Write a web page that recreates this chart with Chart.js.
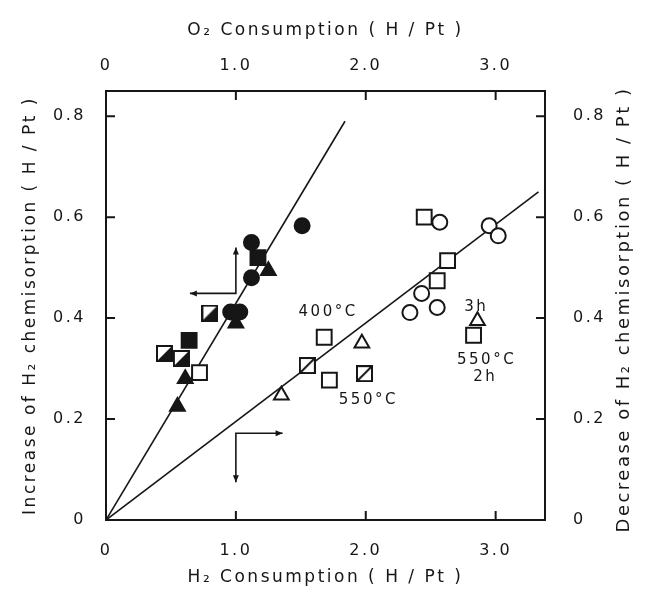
<!DOCTYPE html>
<html>
<head>
<meta charset="utf-8">
<script src="https://cdn.jsdelivr.net/npm/chart.js@4.4.1/dist/chart.umd.min.js"></script>
<style>
  html, body { margin: 0; padding: 0; background: #fff; }
</style>
</head>
<body>
<canvas id="chart" width="645" height="595"></canvas>
<script>
// Axis ticks (bottom H2 / top O2 share the same scale)
const xTicks = [0, 1, 2, 3];
const xTickLabels = ['0', '1.0', '2.0', '3.0'];
const yTicks = [0, 0.2, 0.4, 0.6, 0.8];
const yTickLabels = ['0', '0.2', '0.4', '0.6', '0.8'];

// Measured points (x = consumption H/Pt, y = chemisorption change H/Pt)
const filledCircles = [
    { x: 1.51, y: 0.583 }, { x: 1.12, y: 0.55 }, { x: 1.12, y: 0.48 },
    { x: 0.96, y: 0.412 }, { x: 1.03, y: 0.412 }
];
const filledSquares = [{ x: 0.64, y: 0.356 }, { x: 1.17, y: 0.52 }];
const filledTriangles = [
    { x: 1.0, y: 0.39 }, { x: 0.61, y: 0.28 }, { x: 0.55, y: 0.225 }, { x: 1.25, y: 0.494 }
];
const halfSquares = [{ x: 0.8, y: 0.41 }, { x: 0.45, y: 0.33 }, { x: 0.58, y: 0.32 }];
const openSquares = [
    { x: 0.72, y: 0.292 }, { x: 1.68, y: 0.362 }, { x: 1.72, y: 0.277 },
    { x: 2.45, y: 0.6 }, { x: 2.63, y: 0.514 }, { x: 2.55, y: 0.474 }, { x: 2.83, y: 0.366 }
];
const slashSquares = [{ x: 1.55, y: 0.306 }, { x: 1.99, y: 0.29 }];
const openTriangles = [{ x: 1.35, y: 0.247 }, { x: 1.97, y: 0.35 }, { x: 2.86, y: 0.395 }];
const openCircles = [
    { x: 2.57, y: 0.59 }, { x: 2.95, y: 0.583 }, { x: 3.02, y: 0.563 },
    { x: 2.43, y: 0.449 }, { x: 2.34, y: 0.411 }, { x: 2.55, y: 0.421 }
];

// Fitted lines through the origin
const fitSteep = [{ x: 0, y: 0 }, { x: 1.84, y: 0.79 }];
const fitShallow = [{ x: 0, y: 0 }, { x: 3.33, y: 0.65 }];

// Labels inside the plot
const notes = [
    { text: '400°C', x: 1.71, y: 0.411 },
    { text: '550°C', x: 2.02, y: 0.237 },
    { text: '3h', x: 2.85, y: 0.421 },
    { text: '550°C', x: 2.93, y: 0.316 },
    { text: '2h', x: 2.92, y: 0.283 }
];

// L-shaped arrows: corner, end of vertical leg, end of horizontal leg
const arrows = [
    { x: 1.0, y: 0.449, toY: 0.54, toX: 0.646 },
    { x: 1.0, y: 0.172, toY: 0.075, toX: 1.36 }
];

const INK = '#161616';
const FONT = "'DejaVu Sans', sans-serif";

Chart.defaults.font.family = FONT;
Chart.defaults.color = INK;

// square markers with a diagonal: half filled or just slashed
function squareMark(kind) {
    const s = 17;
    const c = document.createElement('canvas');
    c.width = s; c.height = s;
    const g = c.getContext('2d');
    g.fillStyle = '#fff';
    g.fillRect(1, 1, s - 2, s - 2);
    g.fillStyle = INK;
    g.strokeStyle = INK;
    g.lineWidth = 2;
    if (kind === 'half') {
        g.beginPath();
        g.moveTo(s - 1, 1); g.lineTo(s - 1, s - 1); g.lineTo(1, s - 1);
        g.closePath();
        g.fill();
    }
    g.strokeRect(1, 1, s - 2, s - 2);
    if (kind === 'slash') {
        g.beginPath();
        g.moveTo(2, s - 2); g.lineTo(s - 2, 2);
        g.stroke();
    }
    return c;
}

function marks(data, style, fill, radius) {
    return {
        data,
        pointStyle: style,
        pointRadius: radius,
        pointBackgroundColor: fill,
        pointBorderColor: INK,
        pointBorderWidth: 2,
        showLine: false
    };
}

function fitLine(data) {
    return {
        type: 'line',
        data,
        borderColor: INK,
        borderWidth: 1.6,
        pointRadius: 0,
        fill: false,
        order: 10
    };
}

// hand-lettered look: spread the glyphs a little
const spacing = {
    id: 'spacing',
    beforeUpdate(chart) { chart.ctx.letterSpacing = '2.5px'; },
    beforeDraw(chart) { chart.ctx.letterSpacing = '2.5px'; }
};

// short tick marks pointing into the plot on all four sides
const innerTicks = {
    id: 'innerTicks',
    afterDraw(chart) {
        const { ctx, chartArea: a, scales } = chart;
        const len = 9;
        ctx.save();
        ctx.strokeStyle = INK;
        ctx.lineWidth = 2;
        ctx.beginPath();
        xTicks.forEach(v => {
            const px = scales.x.getPixelForValue(v);
            ctx.moveTo(px, a.bottom); ctx.lineTo(px, a.bottom - len);
            ctx.moveTo(px, a.top); ctx.lineTo(px, a.top + len);
        });
        yTicks.forEach(v => {
            const py = scales.y.getPixelForValue(v);
            ctx.moveTo(a.left, py); ctx.lineTo(a.left + len, py);
            ctx.moveTo(a.right, py); ctx.lineTo(a.right - len, py);
        });
        ctx.stroke();
        ctx.restore();
    }
};

function arrowHead(ctx, x, y, dx, dy) {
    const l = 7, w = 3;
    ctx.beginPath();
    ctx.moveTo(x, y);
    ctx.lineTo(x - dx * l - dy * w, y - dy * l + dx * w);
    ctx.lineTo(x - dx * l + dy * w, y - dy * l - dx * w);
    ctx.closePath();
    ctx.fill();
}

// notes, arrows and the right-hand axis title (reads bottom to top)
const extras = {
    id: 'extras',
    afterDraw(chart) {
        const { ctx, chartArea: a, scales: { x, y } } = chart;
        ctx.save();
        ctx.fillStyle = INK;
        ctx.strokeStyle = INK;
        ctx.lineWidth = 1.6;
        ctx.letterSpacing = '2.5px';
        ctx.font = '15px ' + FONT;
        ctx.textAlign = 'center';
        ctx.textBaseline = 'middle';
        notes.forEach(n => ctx.fillText(n.text, x.getPixelForValue(n.x), y.getPixelForValue(n.y)));

        arrows.forEach(r => {
            const cx = x.getPixelForValue(r.x), cy = y.getPixelForValue(r.y);
            const vy = y.getPixelForValue(r.toY), hx = x.getPixelForValue(r.toX);
            ctx.beginPath();
            ctx.moveTo(cx, vy); ctx.lineTo(cx, cy); ctx.lineTo(hx, cy);
            ctx.stroke();
            arrowHead(ctx, cx, vy, 0, Math.sign(vy - cy));
            arrowHead(ctx, hx, cy, Math.sign(hx - cx), 0);
        });

        ctx.font = '18px ' + FONT;
        ctx.translate(624, (a.top + a.bottom) / 2 + 4);
        ctx.rotate(-Math.PI / 2);
        ctx.fillText('Decrease of H\u2082 chemisorption ( H / Pt )', 0, 0);
        ctx.restore();
    }
};

function xAxis(position, title, size, pad, titlePad) {
    return {
        type: 'linear',
        position,
        min: 0,
        max: 3.38,
        grid: { display: false },
        border: { display: true, color: INK, width: 2 },
        afterBuildTicks: s => { s.ticks = xTicks.map(v => ({ value: v })); },
        afterFit: s => { s.height = size; },
        ticks: {
            padding: pad,
            font: { size: 16 },
            maxRotation: 0,
            callback: (v, i) => xTickLabels[i]
        },
        title: { display: true, text: title, font: { size: 17 }, padding: titlePad }
    };
}

function yAxis(position, size, pad, title) {
    return {
        type: 'linear',
        position,
        min: 0,
        max: 0.85,
        grid: { display: false },
        border: { display: true, color: INK, width: 2 },
        afterBuildTicks: s => { s.ticks = yTicks.map(v => ({ value: v })); },
        afterFit: s => { s.width = size; },
        ticks: {
            padding: pad,
            font: { size: 16 },
            callback: (v, i) => yTickLabels[i]
        },
        title: title
            ? { display: true, text: title, font: { size: 17 }, padding: { top: 20, bottom: 0 } }
            : { display: false }
    };
}

new Chart(document.getElementById('chart'), {
    type: 'scatter',
    data: {
        datasets: [
            fitLine(fitSteep),
            fitLine(fitShallow),
            marks(filledCircles, 'circle', INK, 7.5),
            marks(filledSquares, 'rect', INK, 10.5),
            marks(filledTriangles, 'triangle', INK, 8.5),
            marks(halfSquares, squareMark('half'), INK, 9),
            marks(openSquares, 'rect', '#fff', 10.5),
            marks(slashSquares, squareMark('slash'), '#fff', 9),
            marks(openTriangles, 'triangle', '#fff', 8.5),
            marks(openCircles, 'circle', '#fff', 7.5)
        ]
    },
    options: {
        responsive: false,
        animation: false,
        layout: { padding: 0 },
        plugins: {
            legend: { display: false },
            tooltip: { enabled: false }
        },
        scales: {
            x: xAxis('bottom', 'H\u2082 Consumption ( H / Pt )', 75, 13, { top: 0, bottom: 7 }),
            x2: xAxis('top', 'O\u2082 Consumption ( H / Pt )', 91, 8, { top: 20, bottom: 0 }),
            y: yAxis('left', 106, 12, 'Increase of H\u2082 chemisorption ( H / Pt )'),
            y2: yAxis('right', 100, 20, null)
        }
    },
    plugins: [spacing, innerTicks, extras]
});
</script>
</body>
</html>
